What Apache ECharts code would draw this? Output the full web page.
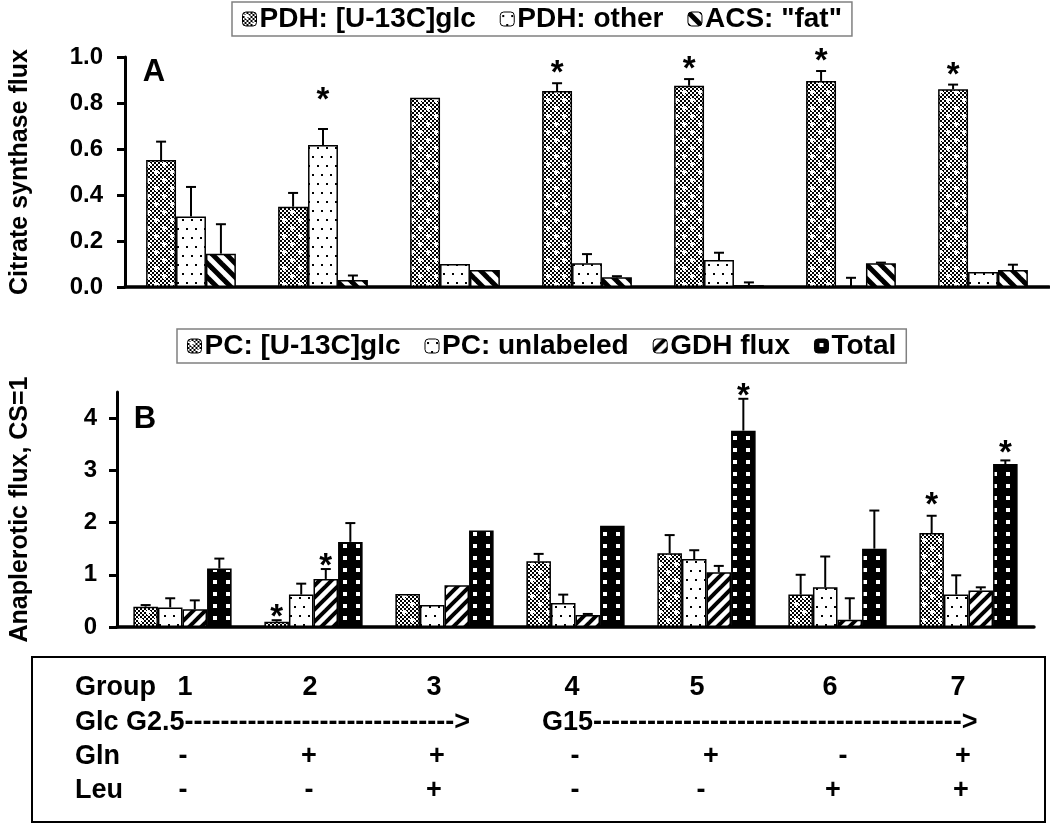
<!DOCTYPE html>
<html>
<head>
<meta charset="utf-8">
<script src="https://cdn.jsdelivr.net/npm/echarts@6/dist/echarts.min.js"></script>
<style>
html,body{margin:0;padding:0;background:#fff;}
#main{width:1050px;height:824px;}
</style>
</head>
<body>
<div id="main"></div>
<script>
// ---------------- DATA ----------------
const groups = ['1', '2', '3', '4', '5', '6', '7'];

// Panel A: citrate synthase flux
const namesA = ['PDH: [U-13C]glc', 'PDH: other', 'ACS: "fat"'];
const pdhGlc = [0.552, 0.349, 0.823, 0.852, 0.875, 0.896, 0.860];
const pdhGlcErr = [0.080, 0.060, 0, 0.034, 0.029, 0.043, 0.020];
const pdhOther = [0.306, 0.617, 0.100, 0.103, 0.117, 0.000, 0.065];
const pdhOtherErr = [0.129, 0.070, 0, 0.040, 0.032, 0.040, 0];
const acsFat = [0.145, 0.030, 0.074, 0.042, 0.008, 0.103, 0.074];
const acsFatErr = [0.128, 0.020, 0, 0.005, 0.012, 0.003, 0.023];
const starsA = [[1, 1], [3, 0], [4, 0], [5, 0], [6, 0]]; // [group index, series index]

// Panel B: anaplerotic flux (CS = 1)
const namesB = ['PC: [U-13C]glc', 'PC: unlabeled', 'GDH flux', 'Total'];
const pcGlc = [0.39, 0.10, 0.63, 1.26, 1.41, 0.62, 1.80];
const pcGlcErr = [0.03, 0.03, 0, 0.14, 0.35, 0.38, 0.33];
const pcUnl = [0.375, 0.62, 0.42, 0.46, 1.30, 0.76, 0.62];
const pcUnlErr = [0.175, 0.21, 0, 0.16, 0.17, 0.59, 0.37];
const gdh = [0.34, 0.92, 0.80, 0.23, 1.05, 0.14, 0.70];
const gdhErr = [0.17, 0.19, 0, 0.02, 0.12, 0.41, 0.06];
const total = [1.12, 1.63, 1.85, 1.94, 3.76, 1.50, 3.12];
const totalErr = [0.19, 0.36, 0, 0, 0.61, 0.73, 0.07];
const starsB = [[1, 0], [1, 2], [4, 3], [6, 0], [6, 3]];

// Axis tick labels
const ticksA = [0, 0.2, 0.4, 0.6, 0.8, 1.0];
const ticksB = [0, 1, 2, 3, 4];

// Condition table
const rowHeads = ['Group', 'Glc', 'Gln', 'Leu'];
const glcStarts = ['G2.5', 'G15'];
const glnSigns = ['-', '+', '+', '-', '+', '-', '+'];
const leuSigns = ['-', '-', '+', '-', '-', '+', '+'];

// ---------------- PATTERNS ----------------
function tile(w, h, draw) {
  const c = document.createElement('canvas');
  c.width = w; c.height = h;
  const g = c.getContext('2d');
  g.fillStyle = '#fff'; g.fillRect(0, 0, w, h);
  draw(g, w, h);
  return { image: c, repeat: 'repeat' };
}
const patChecker = tile(16, 16, (g) => {
  g.fillStyle = '#000';
  for (let i = 0; i < 8; i++) for (let j = 0; j < 8; j++) if ((i + j) % 2 === 0) g.fillRect(i * 2, j * 2, 2, 2);
  g.fillStyle = '#fff';
  [[4, 4], [12, 12]].forEach(([x, y]) => { g.fillRect(x - 2, y - 1, 5, 2); g.fillRect(x - 1, y - 2, 2, 5); });
});
const patDots = tile(9, 18, (g) => {
  g.fillStyle = '#000';
  g.fillRect(2, 3, 2, 2); g.fillRect(6, 12, 2, 2);
});
const patBack = tile(14, 14, (g) => {
  g.strokeStyle = '#000'; g.lineWidth = 5;
  for (let o = -14; o <= 14; o += 14) { g.beginPath(); g.moveTo(o - 2, -2); g.lineTo(o + 16, 16); g.stroke(); }
});
const patFwd = tile(12, 12, (g) => {
  g.strokeStyle = '#000'; g.lineWidth = 4;
  for (let o = -12; o <= 12; o += 12) { g.beginPath(); g.moveTo(o - 2, 14); g.lineTo(o + 14, -2); g.stroke(); }
});
const patTotal = tile(13, 12, (g) => {
  g.fillStyle = '#000'; g.fillRect(0, 0, 13, 12);
  g.fillStyle = '#fff'; g.fillRect(5, 4, 4, 4);
});

// ---------------- HELPERS ----------------
const FONT = '"Liberation Sans", Arial, sans-serif';
const gapA = 0.32, gapB = 0.25;

function barSeries(name, vals, pat, axis) {
  return {
    name: name, type: 'bar', xAxisIndex: axis, yAxisIndex: axis,
    data: vals, barGap: '0%', barCategoryGap: ((axis === 0 ? gapA : gapB) * 100) + '%',
    itemStyle: { color: pat, borderColor: '#000', borderWidth: 1.5 },
    emphasis: { disabled: true }, animation: false
  };
}
function errSeries(vals, errs, stars, k, n, gap, axis, starGap) {
  const data = vals.map((v, i) => {
    const st = stars.find(s => s[0] === i && s[1] === k);
    return [i, v, errs[i], st ? 1 : 0];
  });
  return {
    type: 'custom', xAxisIndex: axis, yAxisIndex: axis, z: 5, silent: true, animation: false,
    data: data,
    renderItem: function (params, api) {
      const i = api.value(0), v = api.value(1), e = api.value(2), s = api.value(3);
      const band = api.size([1, 0])[0];
      const bw = band * (1 - gap) / n;
      const cx = api.coord([i, 0])[0] - band * (1 - gap) / 2 + bw * (k + 0.5);
      const yv = api.coord([i, v])[1];
      const yt = api.coord([i, v + e])[1];
      const ch = [];
      if (e > 0) {
        ch.push({ type: 'line', shape: { x1: cx, y1: yv, x2: cx, y2: yt }, style: { stroke: '#000', lineWidth: 2 } });
        ch.push({ type: 'line', shape: { x1: cx - 5, y1: yt, x2: cx + 5, y2: yt }, style: { stroke: '#000', lineWidth: 2 } });
      }
      if (s) {
        const gp = starGap(i, k);
        ch.push({ type: 'text', x: cx, y: yt - gp + 9, style: { text: '*', font: 'bold 33px ' + FONT, fill: '#000', align: 'center', verticalAlign: 'middle' } });
      }
      return { type: 'group', children: ch };
    }
  };
}

const chart = echarts.init(document.getElementById('main'), null, { renderer: 'canvas' });

const yAxisCommon = {
  type: 'value',
  axisLine: { show: true, lineStyle: { color: '#000', width: 3 } },
  axisTick: { show: true, inside: false, length: 8, lineStyle: { color: '#000', width: 3 } },
  splitLine: { show: false },
  nameLocation: 'middle',
  nameTextStyle: { fontFamily: FONT, fontWeight: 'bold', fontSize: 25, color: '#000' }
};
const xAxisCommon = {
  type: 'category', data: groups,
  axisLine: { show: true, onZero: false, lineStyle: { color: '#000', width: 3.5 } },
  axisTick: { show: false }, axisLabel: { show: false }, splitLine: { show: false }
};
const legendCommon = {
  orient: 'horizontal', padding: [3, 10, 3, 10], itemGap: 24, itemWidth: 14, itemHeight: 14,
  borderColor: '#808080', borderWidth: 1.5,
  itemStyle: { borderColor: '#000', borderWidth: 1 },
  textStyle: { fontFamily: FONT, fontWeight: 'bold', fontSize: 28, color: '#000', padding: [0, 0, 0, -2] },
  selectedMode: false
};

const option = {
  backgroundColor: '#fff',
  animation: false,
  legend: [
    Object.assign({ data: namesA, left: 232, top: 2 }, legendCommon),
    Object.assign({ data: namesB, left: 177, top: 329 }, legendCommon)
  ],
  grid: [
    { left: 108, top: 57, right: 1, height: 230, containLabel: false },
    { left: 100, top: 392, right: 16, height: 235, containLabel: false }
  ],
  xAxis: [
    Object.assign({ gridIndex: 0 }, xAxisCommon),
    Object.assign({ gridIndex: 1 }, xAxisCommon)
  ],
  yAxis: [
    Object.assign({}, yAxisCommon, {
      gridIndex: 0, min: 0, max: 1, interval: 0.2,
      name: 'Citrate synthase flux', nameGap: 92,
      axisLabel: { fontFamily: FONT, fontWeight: 'bold', fontSize: 24, color: '#000', margin: 22, customValues: ticksA, formatter: v => v.toFixed(1) },
      axisTick: Object.assign({}, yAxisCommon.axisTick, { customValues: ticksA })
    }),
    Object.assign({}, yAxisCommon, {
      gridIndex: 1, min: 0, max: 4.5, interval: 1,
      name: 'Anaplerotic flux, CS=1', nameGap: 84,
      axisLabel: { fontFamily: FONT, fontWeight: 'bold', fontSize: 24, color: '#000', margin: 20, customValues: ticksB },
      axisTick: Object.assign({}, yAxisCommon.axisTick, { customValues: ticksB })
    })
  ],
  graphic: [],
  series: []
};

// Bars A
const valsA = [pdhGlc, pdhOther, acsFat], errsA = [pdhGlcErr, pdhOtherErr, acsFatErr];
const patsA = [patChecker, patDots, patBack];
valsA.forEach((v, k) => option.series.push(barSeries(namesA[k], v, patsA[k], 0)));
const starGapA = (i, k) => (i === 1 && k === 1) ? 37 : 18;
valsA.forEach((v, k) => option.series.push(errSeries(v, errsA[k], starsA, k, 3, gapA, 0, starGapA)));

// Bars B
const valsB = [pcGlc, pcUnl, gdh, total], errsB = [pcGlcErr, pcUnlErr, gdhErr, totalErr];
const patsB = [patChecker, patDots, patFwd, patTotal];
valsB.forEach((v, k) => option.series.push(barSeries(namesB[k], v, patsB[k], 1)));
const starGapB = (i, k) => (i === 6 && k === 0) ? 19 : (i === 6 && k === 3 ? 16 : 11);
valsB.forEach((v, k) => option.series.push(errSeries(v, errsB[k], starsB, k, 4, gapB, 1, starGapB)));

// Panel letters
option.graphic.push({ type: 'text', x: 154, y: 72, style: { text: 'A', font: 'bold 31px ' + FONT, fill: '#000', align: 'center', verticalAlign: 'middle' } });
option.graphic.push({ type: 'text', x: 145, y: 419, style: { text: 'B', font: 'bold 31px ' + FONT, fill: '#000', align: 'center', verticalAlign: 'middle' } });

// Condition table
option.graphic.push({ type: 'rect', shape: { x: 32, y: 657, width: 1013, height: 165 }, style: { fill: 'none', stroke: '#000', lineWidth: 2 } });
const groupX = [185, 310, 434, 572, 697, 830, 958];
const glnX = [183, 309, 437, 575, 711, 843, 963];
const leuX = [183, 309, 434, 575, 701, 833, 961];
const rowY = [688, 723, 757, 791];
const tfont = 'bold 27px ' + FONT;
function ttext(t, x, y, align) {
  option.graphic.push({ type: 'text', x: x, y: y, style: { text: t, font: tfont, fill: '#000', align: align || 'center', verticalAlign: 'middle' } });
}
const mctx = document.createElement('canvas').getContext('2d');
mctx.font = tfont;
function arrow(start, x0, x1) {
  let s = start;
  while (mctx.measureText(s + '-->').width <= x1 - x0) s += '-';
  return s + '>';
}
rowHeads.forEach((h, r) => ttext(h, 75, rowY[r], 'left'));
groups.forEach((g, i) => ttext(g, groupX[i], rowY[0]));
ttext(arrow(glcStarts[0], 126, 482), 126, rowY[1], 'left');
ttext(arrow(glcStarts[1], 542, 990), 542, rowY[1], 'left');
glnSigns.forEach((s, i) => ttext(s, glnX[i], rowY[2]));
leuSigns.forEach((s, i) => ttext(s, leuX[i], rowY[3]));

chart.setOption(option);
</script>
</body>
</html>
